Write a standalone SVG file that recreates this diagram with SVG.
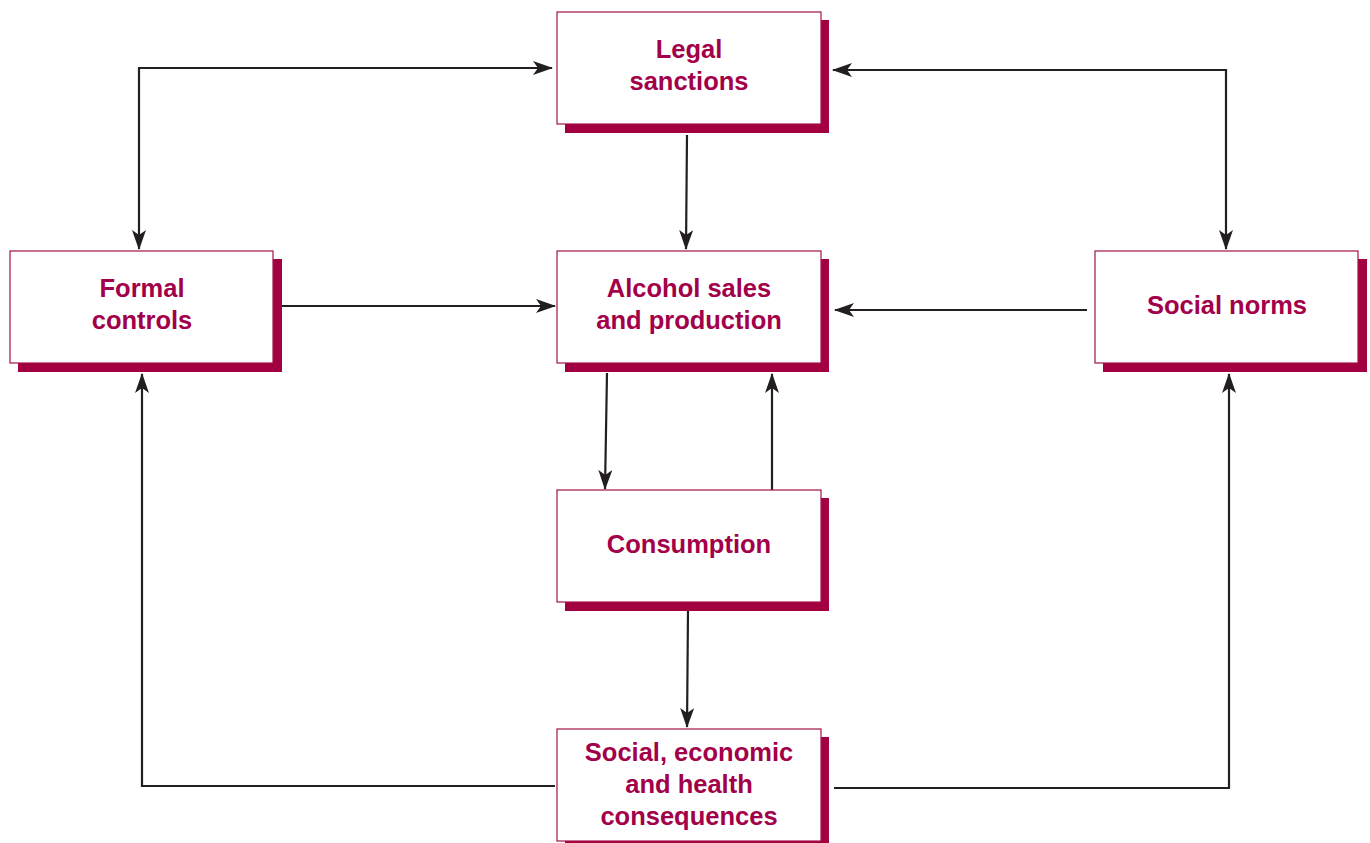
<svg xmlns="http://www.w3.org/2000/svg" width="1370" height="843" viewBox="0 0 1370 843">
<defs>
<style>
.box{fill:#fff;stroke:#a3114a;stroke-width:1.2}
.sh{fill:#a30042}
.t{font-family:"Liberation Sans",Arial,sans-serif;font-weight:bold;font-size:25.5px;fill:#a3004a;text-anchor:middle}
.c{fill:none;stroke:#231f20;stroke-width:2.2}
</style>
<marker id="ah" viewBox="0 0 20 14" refX="19" refY="7" markerWidth="20" markerHeight="14" markerUnits="userSpaceOnUse" orient="auto-start-reverse">
<path d="M0,0 L20,7 L0,14 L5,7 Z" fill="#231f20"/>
</marker>
</defs>
<rect width="1370" height="843" fill="#fff"/>
<g id="connectors">
<path class="c" d="M139,249 V68 H552" marker-start="url(#ah)" marker-end="url(#ah)"/>
<path class="c" d="M833,70 H1226 V249" marker-start="url(#ah)" marker-end="url(#ah)"/>
<path class="c" d="M687,135 L686,249" marker-end="url(#ah)"/>
<path class="c" d="M282,306 H555" marker-end="url(#ah)"/>
<path class="c" d="M1087,310 H835" marker-end="url(#ah)"/>
<path class="c" d="M607,373 L605,489" marker-end="url(#ah)"/>
<path class="c" d="M772,490 V374" marker-end="url(#ah)"/>
<path class="c" d="M688,611 L687,727" marker-end="url(#ah)"/>
<path class="c" d="M555,786 H142 V374" marker-end="url(#ah)"/>
<path class="c" d="M834,788 H1229 V374" marker-end="url(#ah)"/>
</g>
<g id="legal">
<rect class="sh" x="565" y="20" width="264" height="113"/>
<rect class="box" x="557" y="12" width="264" height="112"/>
<text class="t" x="689" y="58">Legal</text>
<text class="t" x="689" y="90">sanctions</text>
</g>
<g id="formal">
<rect class="sh" x="18" y="259" width="264" height="113"/>
<rect class="box" x="10" y="251" width="263" height="112"/>
<text class="t" x="142" y="297">Formal</text>
<text class="t" x="142" y="329">controls</text>
</g>
<g id="alcohol">
<rect class="sh" x="565" y="259" width="264" height="113"/>
<rect class="box" x="557" y="251" width="264" height="112"/>
<text class="t" x="689" y="297">Alcohol sales</text>
<text class="t" x="689" y="329">and production</text>
</g>
<g id="norms">
<rect class="sh" x="1103" y="259" width="264" height="113"/>
<rect class="box" x="1095" y="251" width="263" height="112"/>
<text class="t" x="1227" y="314">Social norms</text>
</g>
<g id="consumption">
<rect class="sh" x="565" y="498" width="264" height="113"/>
<rect class="box" x="557" y="490" width="264" height="112"/>
<text class="t" x="689" y="553">Consumption</text>
</g>
<g id="consequences">
<rect class="sh" x="565" y="737" width="264" height="113"/>
<rect class="box" x="557" y="729" width="264" height="112"/>
<text class="t" x="689" y="761">Social, economic</text>
<text class="t" x="689" y="793">and health</text>
<text class="t" x="689" y="825">consequences</text>
</g>
</svg>
